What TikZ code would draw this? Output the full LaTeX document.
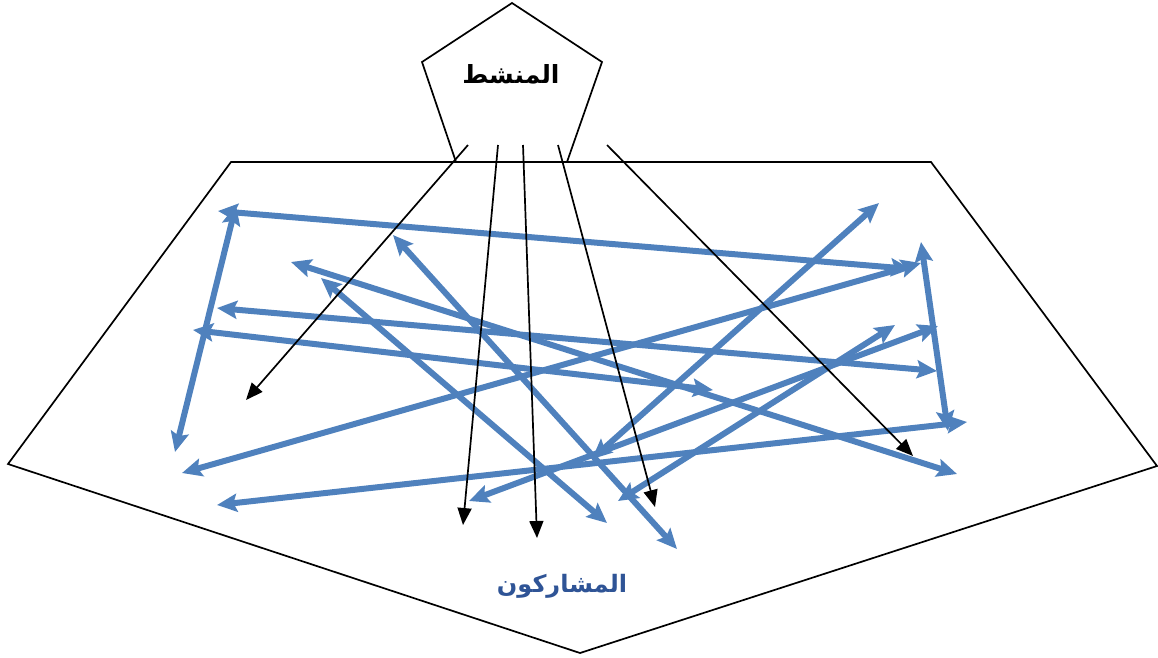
\documentclass[tikz,border=0pt]{standalone}
\usepackage{fontspec}
\newfontfamily\arabicfont[Script=Arabic]{DejaVu Sans}
\TeXXeTstate=1
\usetikzlibrary{arrows.meta}
\definecolor{arrowblue}{RGB}{79,129,189}
\definecolor{textblue}{RGB}{47,84,150}
\tikzset{
  frame/.style={draw=black, line width=1.7pt, line join=miter},
  bluearrow/.style={draw=arrowblue, line width=6pt,
    {Stealth[length=20pt,width=18pt,inset=3.5pt]}-{Stealth[length=20pt,width=18pt,inset=3.5pt]}},
  blackarrow/.style={draw=black, line width=1.7pt,
    -{Triangle[length=17pt,width=14pt]}},
  lbl/.style={inner sep=0pt, font=\arabicfont\bfseries}
}
\begin{document}
\begin{tikzpicture}[x=1pt,y=-1pt]
\useasboundingbox (0,0) rectangle (1158,657);
% big pentagon (participants)
\coordinate (P1) at (231,162);
\coordinate (P2) at (931,162);
\coordinate (P3) at (1157,466);
\coordinate (P4) at (580,653);
\coordinate (P5) at (8,464);
\draw[frame] (P1) -- (P2) -- (P3) -- (P4) -- (P5) -- cycle;
% small pentagon (facilitator)
\coordinate (S1) at (512,3);
\coordinate (S2) at (602,62);
\coordinate (S3) at (567,162);
\coordinate (S4) at (456,162);
\coordinate (S5) at (422,62);
\draw[frame, fill=white] (S1) -- (S2) -- (S3) -- (S4) -- (S5) -- cycle;
\node[lbl, font=\arabicfont\bfseries\fontsize{25}{29}\selectfont] (anim) at (511,74) {\beginR المنشط\endR};
\node[lbl, text=textblue, font=\arabicfont\bfseries\fontsize{24}{28}\selectfont] (part) at (562,586) {\beginR المشاركون\endR};
% blue double-headed arrows
\coordinate (a1) at (218,211);  \coordinate (b1) at (911,269);
\coordinate (a2) at (236,205);  \coordinate (b2) at (175,452);
\coordinate (a3) at (182,473);  \coordinate (b3) at (921,263);
\coordinate (a4) at (921,242);  \coordinate (b4) at (948,431);
\coordinate (a5) at (217,308);  \coordinate (b5) at (937,371);
\coordinate (a6) at (193,330);  \coordinate (b6) at (713,390);
\coordinate (a7) at (291,262);  \coordinate (b7) at (957,474);
\coordinate (a8) at (321,278);  \coordinate (b8) at (607,523);
\coordinate (a9) at (393,235);  \coordinate (b9) at (677,549);
\coordinate (a10) at (879,203); \coordinate (b10) at (592,459);
\coordinate (a11) at (938,326); \coordinate (b11) at (469,501);
\coordinate (a12) at (895,325); \coordinate (b12) at (618,501);
\coordinate (a13) at (967,422); \coordinate (b13) at (217,505);
\foreach \i in {1,...,13} {\draw[bluearrow] (a\i) -- (b\i);}
% black arrows from the facilitator
\coordinate (f1) at (468,145); \coordinate (t1) at (246,400);
\coordinate (f2) at (498,145); \coordinate (t2) at (463,525);
\coordinate (f3) at (523,145); \coordinate (t3) at (537,538);
\coordinate (f4) at (558,145); \coordinate (t4) at (655,507);
\coordinate (f5) at (607,145); \coordinate (t5) at (913,456);
\foreach \i in {1,...,5} {\draw[blackarrow] (f\i) -- (t\i);}
\end{tikzpicture}
\end{document}
